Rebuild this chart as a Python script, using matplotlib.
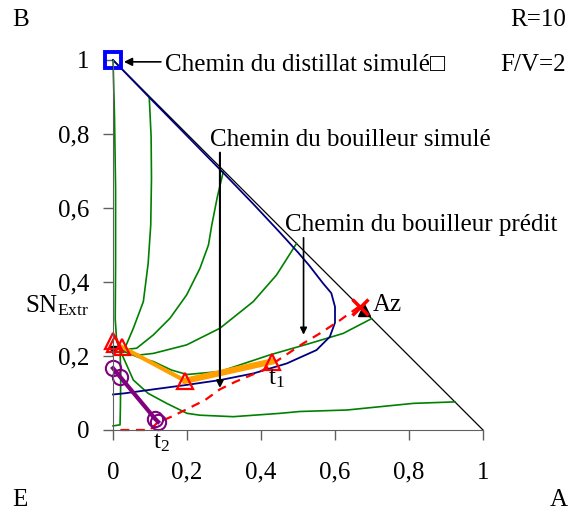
import numpy as np
import matplotlib
matplotlib.use("Agg")
import matplotlib.pyplot as plt

plt.rcParams['font.family'] = ['Liberation Serif', 'DejaVu Sans']
plt.rcParams['mathtext.fontset'] = 'custom'
plt.rcParams['mathtext.rm'] = 'Liberation Serif'
plt.rcParams['mathtext.it'] = 'Liberation Serif:italic'

# residue curves (green)
curve_a_x = [0.0, 0.004, 0.007, 0.007, 0.006, 0.01, 0.019, 0.021, 0.02, 0.019, 0.0]
curve_a_y = [1.0, 0.85, 0.65, 0.45, 0.3, 0.24, 0.216, 0.15, 0.06, 0.014, 0.011]
curve_b_x = [0.019, 0.032, 0.055, 0.082, 0.095, 0.102, 0.104, 0.103, 0.098]
curve_b_y = [0.216, 0.221, 0.275, 0.347, 0.45, 0.554, 0.68, 0.793, 0.899]
curve_c_x = [0.019, 0.064, 0.109, 0.154, 0.199, 0.235, 0.258, 0.267, 0.282, 0.298]
curve_c_y = [0.216, 0.221, 0.257, 0.302, 0.365, 0.437, 0.5, 0.554, 0.63, 0.698]
curve_d_x = [0.019, 0.073, 0.109, 0.199, 0.289, 0.379, 0.442, 0.496]
curve_d_y = [0.216, 0.203, 0.207, 0.23, 0.275, 0.347, 0.419, 0.504]
curve_e_x = [0.019, 0.073, 0.109, 0.158, 0.2, 0.289, 0.424, 0.532, 0.622, 0.699]
curve_e_y = [0.216, 0.195, 0.185, 0.162, 0.15, 0.158, 0.203, 0.234, 0.261, 0.301]
curve_f_x = [0.019, 0.055, 0.095, 0.145, 0.2, 0.235, 0.325, 0.451, 0.505, 0.632, 0.812, 0.924]
curve_f_y = [0.216, 0.135, 0.099, 0.072, 0.045, 0.04, 0.036, 0.045, 0.05, 0.054, 0.072, 0.076]
residue_curves = [(curve_a_x, curve_a_y), (curve_b_x, curve_b_y), (curve_c_x, curve_c_y),
                  (curve_d_x, curve_d_y), (curve_e_x, curve_e_y), (curve_f_x, curve_f_y)]

# simulated still path (blue)
still_sim_x = [0.0, 0.03, 0.11, 0.2, 0.29, 0.38, 0.47, 0.55, 0.586, 0.6, 0.6, 0.59, 0.568,
               0.53, 0.5, 0.45, 0.38, 0.3, 0.2, 0.1, 0.0]
still_sim_y = [0.096, 0.099, 0.11, 0.122, 0.135, 0.153, 0.18, 0.216, 0.252, 0.29, 0.333, 0.37,
               0.396, 0.445, 0.48, 0.535, 0.61, 0.693, 0.795, 0.897, 1.0]

# predicted still path (red dashed)
still_pred_x = [0.02, 0.1, 0.12, 0.158, 0.195, 0.249, 0.289, 0.33, 0.406, 0.514, 0.559, 0.614, 0.664]
still_pred_y = [0.0, 0.0, 0.02, 0.036, 0.054, 0.081, 0.11, 0.13, 0.162, 0.234, 0.261, 0.297, 0.333]

# orange path with triangles
tri_x = [0.0, 0.006, 0.023, 0.195, 0.429]
tri_y = [0.24, 0.232, 0.225, 0.133, 0.185]

# purple path with circles
circ_x = [0.0, 0.019, 0.114, 0.122]
circ_y = [0.167, 0.144, 0.03, 0.022]

az_x, az_y = 0.668, 0.333
sn_x, sn_y = 0.0, 0.216

ticks = [0, 0.2, 0.4, 0.6, 0.8, 1]
tick_labels = ['0', '0,2', '0,4', '0,6', '0,8', '1']

fig = plt.figure(figsize=(5.72, 5.17), dpi=100)
ax = fig.add_axes([113/572, 87/517, 370/572, 370/517])

ax.plot([0, 1], [1, 0], color='black', lw=0.9, clip_on=False)
for cx, cy in residue_curves:
    ax.plot(cx, cy, color='#008000', lw=1.2, clip_on=False)
ax.plot(still_sim_x, still_sim_y, color='#000080', lw=1.3, clip_on=False)
ax.plot(still_pred_x, still_pred_y, color='red', lw=1.6, ls=(0, (4, 3)), clip_on=False)

ax.plot(tri_x[2:4], tri_y[2:4], color='#FFA000', lw=3, clip_on=False)
ax.plot(tri_x[3:], tri_y[3:], color='#FFA000', lw=4.5, clip_on=False)
ax.plot(sn_x, sn_y, ls='', marker='v', ms=6, color='black', clip_on=False)
ax.plot(tri_x, tri_y, ls='', marker='^', ms=11, mfc='none', mec='red', mew=1.6, clip_on=False)

ax.plot(circ_x, circ_y, color='#800080', lw=3, clip_on=False)
ax.plot(circ_x, circ_y, ls='', marker='o', ms=11, mfc='none', mec='#800080', mew=1.5, clip_on=False)

ax.plot(0, 1, ls='', marker='s', ms=11, mfc='none', mec='#0000FF', mew=2.8, clip_on=False)
ax.plot(az_x + 0.01, az_y - 0.01, ls='', marker='^', ms=8, color='black', clip_on=False)
ax.plot(az_x, az_y, ls='', marker='x', ms=11, mew=2.5, color='red', clip_on=False)

fs = 18
ax.annotate('', xy=(0.022, 0.995), xytext=(0.137, 0.995),
            arrowprops=dict(arrowstyle='-|>', color='black', lw=1.2, mutation_scale=12))
ax.text(0.14, 0.986, 'Chemin du distillat simulé□', fontsize=fs, va='center', ha='left')
ax.annotate('', xy=(0.289, 0.106), xytext=(0.289, 0.757),
            arrowprops=dict(arrowstyle='-|>', color='black', lw=1.5, mutation_scale=10))
ax.text(0.262, 0.784, 'Chemin du bouilleur simulé', fontsize=fs, va='center', ha='left')
ax.annotate('', xy=(0.515, 0.25), xytext=(0.515, 0.527),
            arrowprops=dict(arrowstyle='-|>', color='black', lw=1.2, mutation_scale=10))
ax.text(0.465, 0.554, 'Chemin du bouilleur prédit', fontsize=fs, va='center', ha='left')

ax.text(0.703, 0.338, 'Az', fontsize=fs, va='center', ha='left')
ax.text(0.419, 0.14, 't$_1$', fontsize=fs, va='center', ha='left')
ax.text(0.108, -0.035, 't$_2$', fontsize=fs, va='center', ha='left')
ax.text(-0.238, 0.335, r'SN$_{\mathrm{Extr}}$', fontsize=fs, va='center', ha='left')

fig.text(12/572, 1 - 20/517, 'B', fontsize=fs, va='center', ha='left')
fig.text(12/572, 17/517, 'E', fontsize=fs, va='center', ha='left')
fig.text(568/572, 17/517, 'A', fontsize=fs, va='center', ha='right')
fig.text(566/572, 1 - 20/517, 'R=10', fontsize=fs, va='center', ha='right')
fig.text(566/572, 1 - 65/517, 'F/V=2', fontsize=fs, va='center', ha='right')

ax.set_xlim(0, 1)
ax.set_ylim(0, 1)
ax.set_xticks(ticks)
ax.set_xticklabels(tick_labels)
ax.set_yticks(ticks)
ax.set_yticklabels(tick_labels)
ax.tick_params(direction='out', length=7, width=1, color='#606060', labelsize=fs)
ax.tick_params(axis='y', pad=10)
ax.tick_params(axis='x', pad=16)
for side in ['top', 'right']:
    ax.spines[side].set_visible(False)
for side in ['left', 'bottom']:
    ax.spines[side].set_color('#606060')
ax.patch.set_visible(False)

fig.savefig('out.png', dpi=100)
